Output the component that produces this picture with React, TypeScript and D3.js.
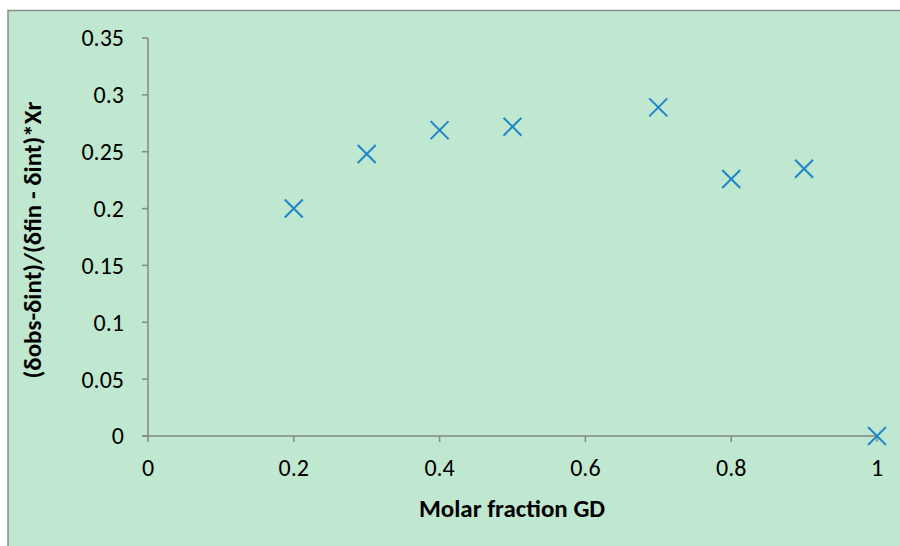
import React from "react";
import * as d3 from "d3";

const xValues = [0.2, 0.3, 0.4, 0.5, 0.7, 0.8, 0.9, 1.0];
const yValues = [0.2, 0.248, 0.269, 0.272, 0.289, 0.226, 0.235, 0.0];
const xTicks = [0, 0.2, 0.4, 0.6, 0.8, 1];
const yTicks = [0, 0.05, 0.1, 0.15, 0.2, 0.25, 0.3, 0.35];
const xTitle = "Molar fraction GD";
const yTitle = "(δobs-δint)/(δfin - δint)*Xr";

const W = 900;
const H = 546;
const FONT = "Carlito, Calibri, 'Open Sans', sans-serif";

export default function App() {
  const x = d3.scaleLinear().domain([0, 1]).range([148, 877]);
  const y = d3.scaleLinear().domain([0, 0.35]).range([436, 38]);
  const axisColor = "#878787";
  const markColor = "#1F86C8";
  const m = 9;
  return (
    <svg
      width={W}
      height={H}
      style={{ position: "absolute", left: 0, top: 0, display: "block" }}
    >
      <rect x={8} y={10.5} width={W + 10} height={H + 10} fill="#C0E7CF" stroke="#8c8c8c" strokeWidth={1.5} />
      {/* y axis */}
      <line x1={x(0)} x2={x(0)} y1={y(0.35)} y2={y(0)} stroke={axisColor} strokeWidth={1.5} />
      {yTicks.map((t) => (
        <g key={"y" + t}>
          <line x1={x(0) - 6} x2={x(0)} y1={y(t)} y2={y(t)} stroke={axisColor} strokeWidth={1.5} />
          <text x={124} y={y(t)} dy="0.35em" textAnchor="end" fontFamily={FONT} fontSize={24} fill="#000">
            {d3.format("~g")(t)}
          </text>
        </g>
      ))}
      {/* x axis */}
      <line x1={x(0) - 6} x2={x(1)} y1={y(0)} y2={y(0)} stroke={axisColor} strokeWidth={1.5} />
      {xTicks.map((t) => (
        <g key={"x" + t}>
          <line x1={x(t)} x2={x(t)} y1={y(0)} y2={y(0) + 6} stroke={axisColor} strokeWidth={1.5} />
          <text x={x(t)} y={468} dy="0.35em" textAnchor="middle" fontFamily={FONT} fontSize={24} fill="#000">
            {d3.format("~g")(t)}
          </text>
        </g>
      ))}
      {/* markers */}
      {xValues.map((v, i) => {
        const cx = x(v);
        const cy = y(yValues[i]);
        return (
          <g key={"m" + i} stroke={markColor} strokeWidth={2}>
            <line x1={cx - m} y1={cy - m} x2={cx + m} y2={cy + m} />
            <line x1={cx - m} y1={cy + m} x2={cx + m} y2={cy - m} />
          </g>
        );
      })}
      {/* titles */}
      <text x={512} y={508} dy="0.35em" textAnchor="middle" fontFamily={FONT} fontSize={25} fontWeight="bold" fill="#000">
        {xTitle}
      </text>
      <text
        transform={`translate(32, 240) rotate(-90)`}
        textAnchor="middle"
        dy="0.35em"
        fontFamily={FONT}
        fontSize={25}
        fontWeight="bold"
        fill="#000"
      >
        {yTitle}
      </text>
    </svg>
  );
}
